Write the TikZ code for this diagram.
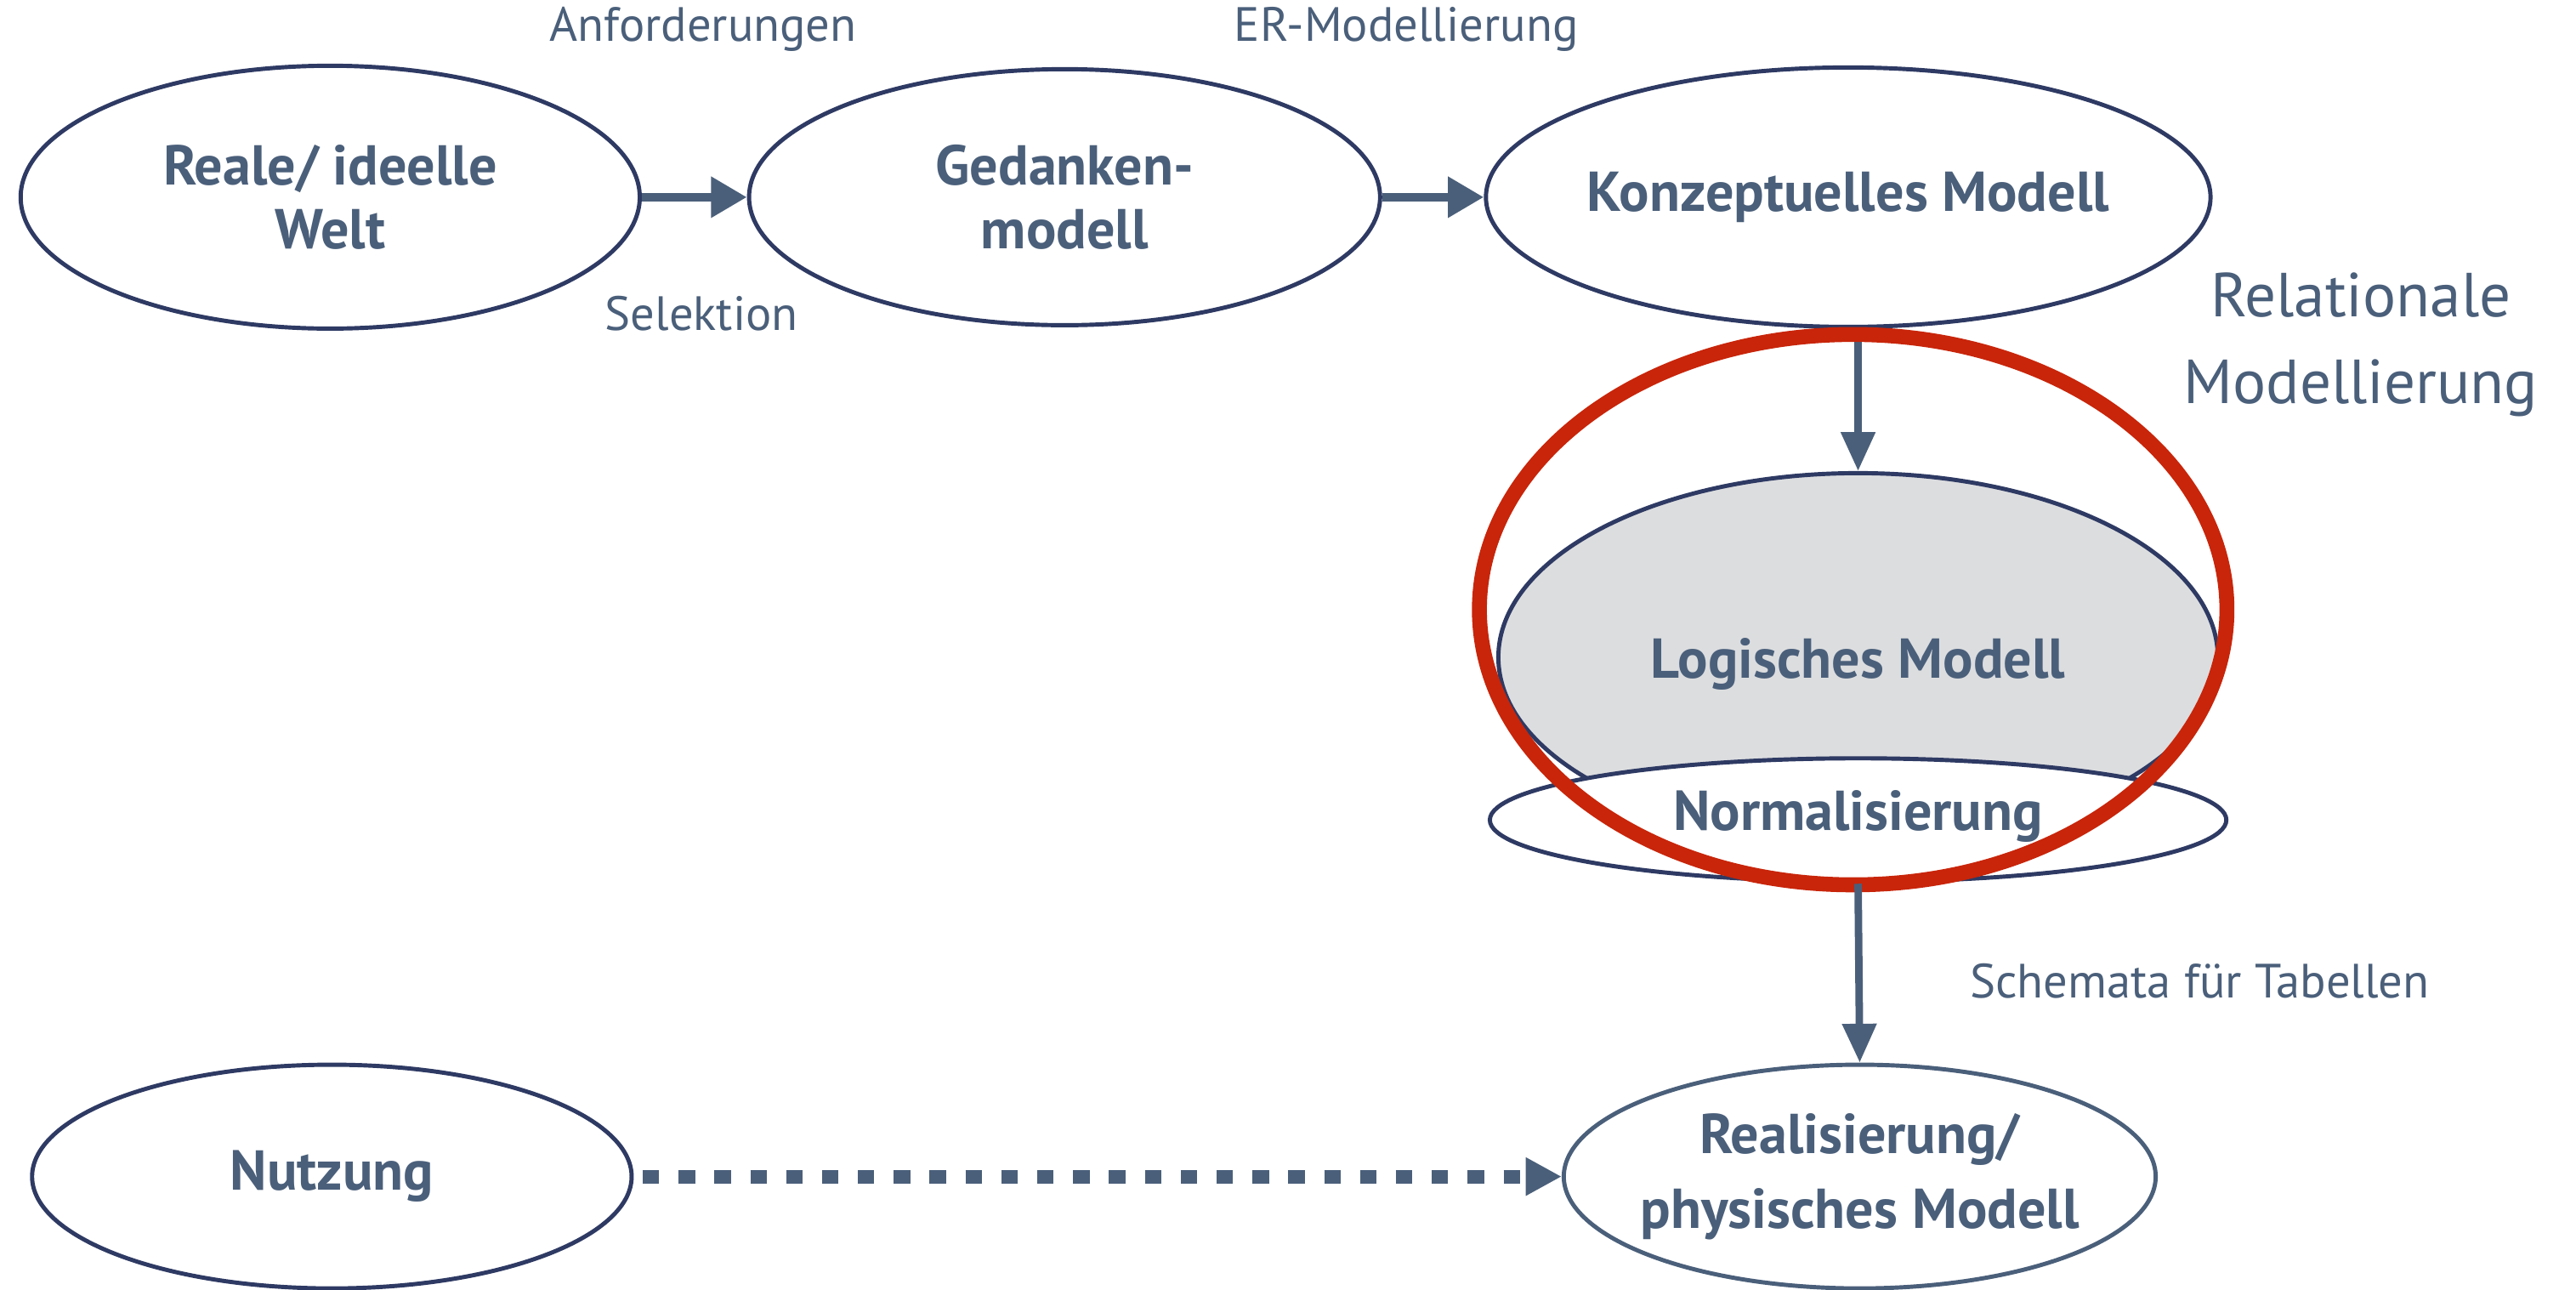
\documentclass[tikz,border=0pt]{standalone}
\usepackage{fontspec}
\setmainfont{PT Sans}
\usepackage{tikz}
\usetikzlibrary{arrows.meta}
\usetikzlibrary{shapes.geometric}

\definecolor{navy}{HTML}{2E3A63}
\definecolor{slate}{HTML}{4A5F7A}
\definecolor{ringred}{HTML}{C8250A}
\definecolor{greyfill}{HTML}{DCDDDF}

\tikzset{
	stage/.style={ellipse, draw=navy, line width=1.4pt, fill=white, text=slate,
		font=\bfseries\fontsize{18.8}{21.5}\selectfont, align=center, inner sep=-12pt},
	note/.style={text=slate, font=\fontsize{16.1}{19}\selectfont, align=center},
	flow/.style={draw=slate, line width=3pt, -{Triangle[length=12pt,width=13pt]}},
	thinflow/.style={draw=slate, line width=2.5pt, -{Triangle[length=13pt,width=11pt]}},
	dashflow/.style={draw=slate, line width=4.5pt, dash pattern=on 5.5pt off 6.5pt,
		-{Triangle[length=12pt,width=12pt]}, shorten <=3pt},
}

\begin{document}
\begin{tikzpicture}[x=0.01932cm, y=-0.01932cm]
	\useasboundingbox (0,0) rectangle (1568,785);
	% top row
	\node[stage, minimum width=7.28cm, minimum height=3.09cm] (welt) at (201,120) {Reale/ ideelle\\Welt};
	\node[stage, minimum width=7.42cm, minimum height=3.01cm] (gedanke) at (648,120) {Gedanken-\\modell};
	\node[stage, minimum width=8.52cm, minimum height=3.05cm] (konzept) at (1125,120) {Konzeptuelles Modell};
	\draw[flow] (welt.east) -- (gedanke.west);
	\draw[flow] (gedanke.east) -- (konzept.west);
	\node[note] (anf) at (428,18) {Anforderungen};
	\node[note] (sel) at (427,191) {Selektion};
	\node[note] (er) at (856,18) {ER-Modellierung};
	% relational part
	\node[stage, fill=greyfill, minimum width=8.46cm, minimum height=4.33cm] (logisch) at (1131,400) {};
	\node[stage, minimum width=8.66cm, minimum height=1.45cm] (norm) at (1131,499) {};
	\node[text=slate, font=\bfseries\fontsize{18.8}{21.5}\selectfont] (logtext) at (1131,404) {Logisches Modell};
	\node[text=slate, font=\bfseries\fontsize{18.8}{21.5}\selectfont] (normtext) at (1131,497) {Normalisierung};
	\draw[thinflow] (konzept.south -| logisch.north) -- (logisch.north);
	\node[ellipse, draw=ringred, line width=5pt, minimum width=8.79cm, minimum height=6.47cm] (ring) at (1128,371) {};
	\node[note, font=\fontsize{20.8}{29}\selectfont] (relmod) at (1437,210) {Relationale\\Modellierung};
	% bottom row
	\node[stage, draw=slate, font=\bfseries\fontsize{18.8}{25}\selectfont, minimum width=6.96cm, minimum height=2.63cm] (real) at (1132,716) {Realisierung/\\physisches Modell};
	\node[stage, minimum width=7.05cm, minimum height=2.63cm] (nutzung) at (202,716) {Nutzung};
	\draw[thinflow] (norm.south) -- (real.north);
	\draw[dashflow] (nutzung.east) -- (real.west);
	\node[note] (schema) at (1339,597) {Schemata für Tabellen};
\end{tikzpicture}
\end{document}
